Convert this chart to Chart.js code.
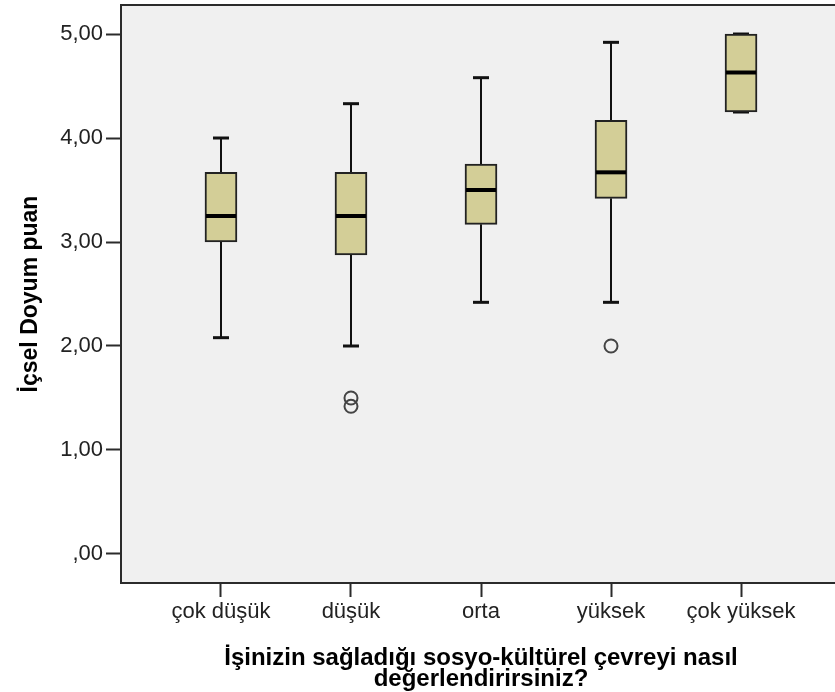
<!DOCTYPE html>
<html>
<head>
<meta charset="utf-8">
<script src="https://cdn.jsdelivr.net/npm/chart.js@4.4.1/dist/chart.umd.min.js"></script>
<style>
  html, body { margin: 0; padding: 0; background: #fff; overflow: hidden; }
  #wrap { width: 845px; height: 692px; }
</style>
</head>
<body>
<div id="wrap"><canvas id="boxChart" width="845" height="692"></canvas></div>
<script>
const categories = ['çok düşük', 'düşük', 'orta', 'yüksek', 'çok yüksek'];
const whiskerLow = [2.08, 2.00, 2.42, 2.42, 4.25];
const q1 = [3.00, 2.875, 3.17, 3.42, 4.25];
const median = [3.25, 3.25, 3.50, 3.67, 4.63];
const q3 = [3.67, 3.67, 3.75, 4.17, 5.00];
const whiskerHigh = [4.00, 4.33, 4.58, 4.92, 5.00];
const outliers = [[], [1.50, 1.42], [], [2.00], []];
const yTicks = [0, 1, 2, 3, 4, 5];

const lineCol = '#2b2b2b';
const fontFam = '"Liberation Sans", Arial, sans-serif';

const fmtTick = v => {
  const s = v.toFixed(2).replace('.', ',');
  return s.startsWith('0,') ? s.slice(1) : s;
};

const boxParts = {
  id: 'boxParts',
  beforeDraw(chart) {
    const { ctx, chartArea: a } = chart;
    ctx.save();
    ctx.fillStyle = '#f0f0f0';
    ctx.fillRect(a.left, a.top, a.right - a.left, a.bottom - a.top);
    ctx.restore();
  },
  beforeDatasetsDraw(chart) {
    const { ctx, scales: { x, y } } = chart;
    ctx.save();
    ctx.strokeStyle = '#111';
    categories.forEach((c, i) => {
      const px = x.getPixelForValue(i);
      [[whiskerLow[i], q1[i]], [whiskerHigh[i], q3[i]]].forEach(([w, q]) => {
        ctx.lineWidth = 2;
        ctx.beginPath();
        ctx.moveTo(px, y.getPixelForValue(w));
        ctx.lineTo(px, y.getPixelForValue(q));
        ctx.stroke();
        ctx.lineWidth = 3;
        ctx.beginPath();
        ctx.moveTo(px - 8, y.getPixelForValue(w));
        ctx.lineTo(px + 8, y.getPixelForValue(w));
        ctx.stroke();
      });
    });
    ctx.restore();
  },
  afterDatasetsDraw(chart) {
    const { ctx, chartArea: a, scales: { x, y } } = chart;
    ctx.save();
    ctx.strokeStyle = '#000';
    ctx.lineWidth = 4;
    categories.forEach((c, i) => {
      const px = x.getPixelForValue(i);
      const py = y.getPixelForValue(median[i]);
      ctx.beginPath();
      ctx.moveTo(px - 15, py);
      ctx.lineTo(px + 15, py);
      ctx.stroke();
    });
    // top frame line
    ctx.strokeStyle = lineCol;
    ctx.lineWidth = 2;
    ctx.beginPath();
    ctx.moveTo(a.left, a.top);
    ctx.lineTo(a.right, a.top);
    ctx.stroke();
    ctx.restore();
  }
};

const outlierPoints = [];
outliers.forEach((list, i) => list.forEach(v => outlierPoints.push({ x: i, y: v })));

new Chart(document.getElementById('boxChart'), {
  type: 'bar',
  data: {
    datasets: [{
      label: 'box',
      data: categories.map((c, i) => ({ x: i, y: [q1[i], q3[i]] })),
      backgroundColor: '#d3ce97',
      borderColor: '#222',
      borderWidth: 2,
      borderSkipped: false,
      barThickness: 32
    }, {
      type: 'scatter',
      label: 'outliers',
      data: outlierPoints,
      pointStyle: 'circle',
      pointRadius: 6.5,
      pointBorderWidth: 2,
      pointBorderColor: '#444',
      pointBackgroundColor: 'rgba(0,0,0,0)'
    }]
  },
  options: {
    responsive: false,
    animation: false,
    layout: { autoPadding: false, padding: { top: 5, right: 4, bottom: 0, left: 0 } },
    plugins: {
      legend: { display: false },
      tooltip: { enabled: false }
    },
    scales: {
      x: {
        type: 'linear',
        offset: false,
        min: -0.769,
        max: 4.769,
        afterBuildTicks: s => { s.ticks = categories.map((c, i) => ({ value: i })); },
        afterFit: s => { s.height = 109; s.paddingLeft = 0; s.paddingRight = 0; },
        ticks: {
          autoSkip: false,
          maxRotation: 0,
          padding: 2,
          color: '#222',
          font: { family: fontFam, size: 22 },
          callback: v => categories[v]
        },
        grid: { offset: false, drawOnChartArea: false, tickLength: 14, tickWidth: 2, tickColor: lineCol },
        border: { display: true, color: lineCol, width: 2 },
        title: {
          display: true,
          text: ['İşinizin sağladığı sosyo-kültürel çevreyi nasıl', 'değerlendirirsiniz?'],
          color: '#000',
          font: { family: fontFam, size: 24, weight: 'bold', lineHeight: 0.84 },
          padding: { top: 0, bottom: 3 }
        }
      },
      y: {
        min: -0.279,
        max: 5.279,
        afterBuildTicks: s => { s.ticks = yTicks.map(v => ({ value: v })); },
        afterFit: s => { s.width = 121; s.paddingTop = 0; s.paddingBottom = 0; },
        ticks: {
          padding: 3,
          color: '#222',
          font: { family: fontFam, size: 22 },
          callback: v => fmtTick(v)
        },
        grid: { drawOnChartArea: false, tickLength: 15, tickWidth: 2, tickColor: lineCol },
        border: { display: true, color: lineCol, width: 2 },
        title: {
          display: true,
          text: 'İçsel Doyum puan',
          color: '#000',
          font: { family: fontFam, size: 23, weight: 'bold' },
          padding: { top: 17, bottom: 0 }
        }
      }
    }
  },
  plugins: [boxParts]
});
</script>
</body>
</html>
